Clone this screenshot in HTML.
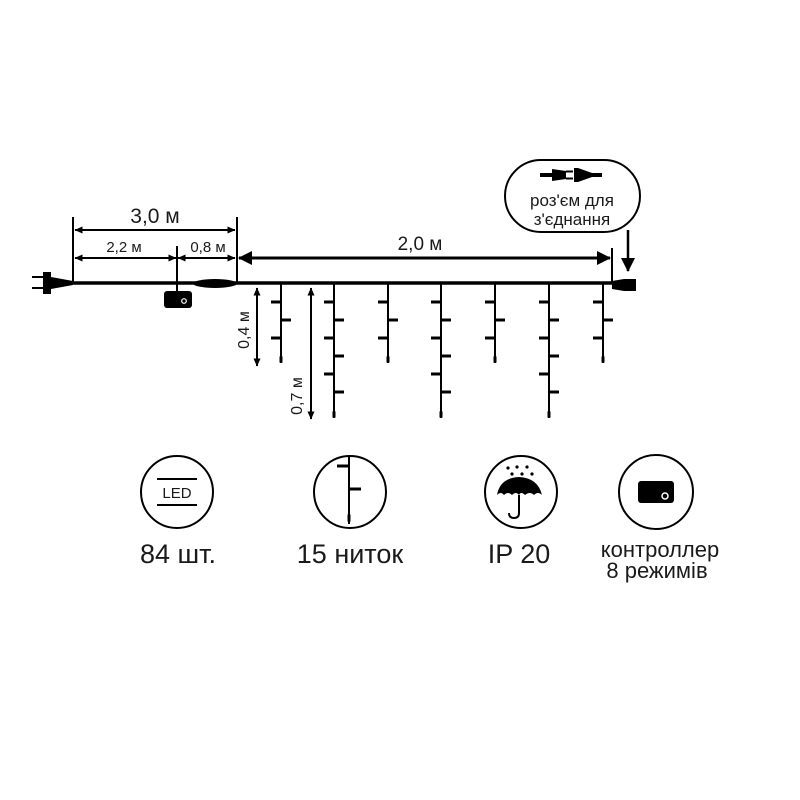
<!DOCTYPE html>
<html><head><meta charset="utf-8"><style>
html,body{margin:0;padding:0;background:#fff;}
svg{display:block;}
text{font-family:"Liberation Sans",sans-serif;fill:#1a1a1a;}
</style></head><body>
<svg width="800" height="800" viewBox="0 0 800 800" xmlns="http://www.w3.org/2000/svg">
<defs>
<marker id="ahs" markerWidth="8" markerHeight="7" refX="7.5" refY="3.5" orient="auto-start-reverse" markerUnits="userSpaceOnUse">
<path d="M0,0 L8,3.5 L0,7 Z" fill="#000"/></marker>
<marker id="big" markerWidth="14" markerHeight="14" refX="13" refY="7" orient="auto-start-reverse" markerUnits="userSpaceOnUse">
<path d="M0,0 L14,7 L0,14 Z" fill="#000"/></marker>
</defs>
<g stroke="#000" fill="none">
<line x1="32" y1="277" x2="44" y2="277" stroke-width="2"/>
<line x1="32" y1="288" x2="44" y2="288" stroke-width="2"/>
<path d="M43,272 L51,272 L51,277 L73,281 L73,285 L51,289 L51,294 L43,294 Z" fill="#000" stroke="none"/>
<line x1="70" y1="283" x2="630" y2="283" stroke-width="3.5"/>
<ellipse cx="215" cy="283.5" rx="22" ry="4.5" fill="#000" stroke="none"/>
<line x1="177" y1="246" x2="177" y2="292" stroke-width="2"/>
<rect x="164" y="291" width="28" height="17" rx="3" fill="#000" stroke="none"/>
<circle cx="184" cy="301" r="2.3" stroke="#fff" stroke-width="1.2"/>
<line x1="73" y1="217" x2="73" y2="283" stroke-width="2"/>
<line x1="237" y1="217" x2="237" y2="283" stroke-width="2"/>
<line x1="612" y1="248" x2="612" y2="283" stroke-width="2"/>
<line x1="75" y1="230" x2="235" y2="230" stroke-width="2" marker-start="url(#ahs)" marker-end="url(#ahs)"/>
<line x1="75" y1="258" x2="176" y2="258" stroke-width="2" marker-start="url(#ahs)" marker-end="url(#ahs)"/>
<line x1="178" y1="258" x2="235" y2="258" stroke-width="2" marker-start="url(#ahs)" marker-end="url(#ahs)"/>
<line x1="239" y1="258" x2="610" y2="258" stroke-width="3" marker-start="url(#big)" marker-end="url(#big)"/>
<path d="M612,281 L624,279 L636,279 L636,291 L624,291 L612,289 Z" fill="#000" stroke="none"/>
<line x1="628" y1="230" x2="628" y2="271" stroke-width="2.5" marker-end="url(#big)"/>
<line x1="257" y1="288" x2="257" y2="366" stroke-width="2" marker-start="url(#ahs)" marker-end="url(#ahs)"/>
<line x1="311" y1="288" x2="311" y2="419" stroke-width="2" marker-start="url(#ahs)" marker-end="url(#ahs)"/>
</g>
<g stroke="#000" stroke-width="2">
<g id="s1">
<line x1="281" y1="283" x2="281" y2="362"/>
<line x1="271" y1="302" x2="281" y2="302" stroke-width="3"/>
<line x1="281" y1="320" x2="291" y2="320" stroke-width="3"/>
<line x1="271" y1="338" x2="281" y2="338" stroke-width="3"/>
<rect x="279.5" y="356" width="3" height="7" rx="1" fill="#000" stroke="none"/>
</g>
<use href="#s1" x="107"/><use href="#s1" x="214"/><use href="#s1" x="322"/>
<g id="l1">
<line x1="334" y1="283" x2="334" y2="417"/>
<line x1="324" y1="302" x2="334" y2="302" stroke-width="3"/>
<line x1="334" y1="320" x2="344" y2="320" stroke-width="3"/>
<line x1="324" y1="338" x2="334" y2="338" stroke-width="3"/>
<line x1="334" y1="356" x2="344" y2="356" stroke-width="3"/>
<line x1="324" y1="374" x2="334" y2="374" stroke-width="3"/>
<line x1="334" y1="392" x2="344" y2="392" stroke-width="3"/>
<rect x="332.5" y="411" width="3" height="7" rx="1" fill="#000" stroke="none"/>
</g>
<use href="#l1" x="107"/><use href="#l1" x="215"/>
</g>
<text x="155" y="223" font-size="21" text-anchor="middle">3,0 м</text>
<text x="124" y="252" font-size="15" text-anchor="middle">2,2 м</text>
<text x="208" y="252" font-size="15" text-anchor="middle">0,8 м</text>
<text x="420" y="250" font-size="19" text-anchor="middle">2,0 м</text>
<text transform="translate(249,330) rotate(-90)" font-size="16" text-anchor="middle">0,4 м</text>
<text transform="translate(302,396) rotate(-90)" font-size="16" text-anchor="middle">0,7 м</text>
<rect x="505" y="160" width="135" height="72" rx="36" fill="#fff" stroke="#000" stroke-width="2"/>
<g fill="#000">
<rect x="540" y="173" width="14" height="4"/>
<path d="M552,169 L566,171 L566,179 L552,181 Z"/>
<line x1="566" y1="171.5" x2="573" y2="171.5" stroke="#000" stroke-width="2"/>
<line x1="566" y1="178.5" x2="573" y2="178.5" stroke="#000" stroke-width="2"/>
<path d="M574,168 L578,168 L592,173 L592,177 L578,182 L574,182 Z"/>
<rect x="590" y="173" width="12" height="4"/>
</g>
<text x="572" y="206" font-size="17" text-anchor="middle">роз'єм для</text>
<text x="572" y="225" font-size="17" text-anchor="middle">з'єднання</text>
<g stroke="#000" stroke-width="2" fill="none">
<circle cx="177" cy="492" r="36"/>
<line x1="157" y1="479" x2="197" y2="479"/>
<line x1="157" y1="505" x2="197" y2="505"/>
<circle cx="350" cy="492" r="36"/>
<line x1="349" y1="457" x2="349" y2="524"/>
<line x1="337" y1="466" x2="349" y2="466" stroke-width="3"/>
<line x1="349" y1="489" x2="361" y2="489" stroke-width="3"/>
<circle cx="521" cy="492" r="36"/>
<circle cx="656" cy="492" r="37"/>
<path d="M519,495 L519,513 Q519,518 514,518 Q509,518 509,513"/>
</g>
<text x="177" y="498" font-size="15" text-anchor="middle">LED</text>
<rect x="347.5" y="514" width="3" height="8" rx="1" fill="#000"/>
<path d="M497,495 Q500,478 519,477 Q538,478 542,495 Q538,491 534,495 Q530,491 525,495 Q521,491 519,495 Q516,491 512,495 Q508,491 504,495 Q501,491 497,495 Z" fill="#000"/>
<g fill="#000"><circle cx="508" cy="468" r="1.6"/><circle cx="517" cy="467" r="1.6"/><circle cx="527" cy="467" r="1.6"/><circle cx="512" cy="474" r="1.6"/><circle cx="522" cy="474" r="1.6"/><circle cx="532" cy="474" r="1.6"/></g>
<rect x="638" y="481" width="36" height="22" rx="3" fill="#000"/>
<circle cx="665" cy="496" r="3" fill="none" stroke="#fff" stroke-width="1.5"/>
<text x="178" y="563" font-size="27" text-anchor="middle">84 шт.</text>
<text x="350" y="563" font-size="27" text-anchor="middle">15 ниток</text>
<text x="519" y="563" font-size="27" text-anchor="middle">IP 20</text>
<text x="660" y="557" font-size="22" text-anchor="middle">контроллер</text>
<text x="657" y="578" font-size="22" text-anchor="middle">8 режимів</text>
</svg>
</body></html>
